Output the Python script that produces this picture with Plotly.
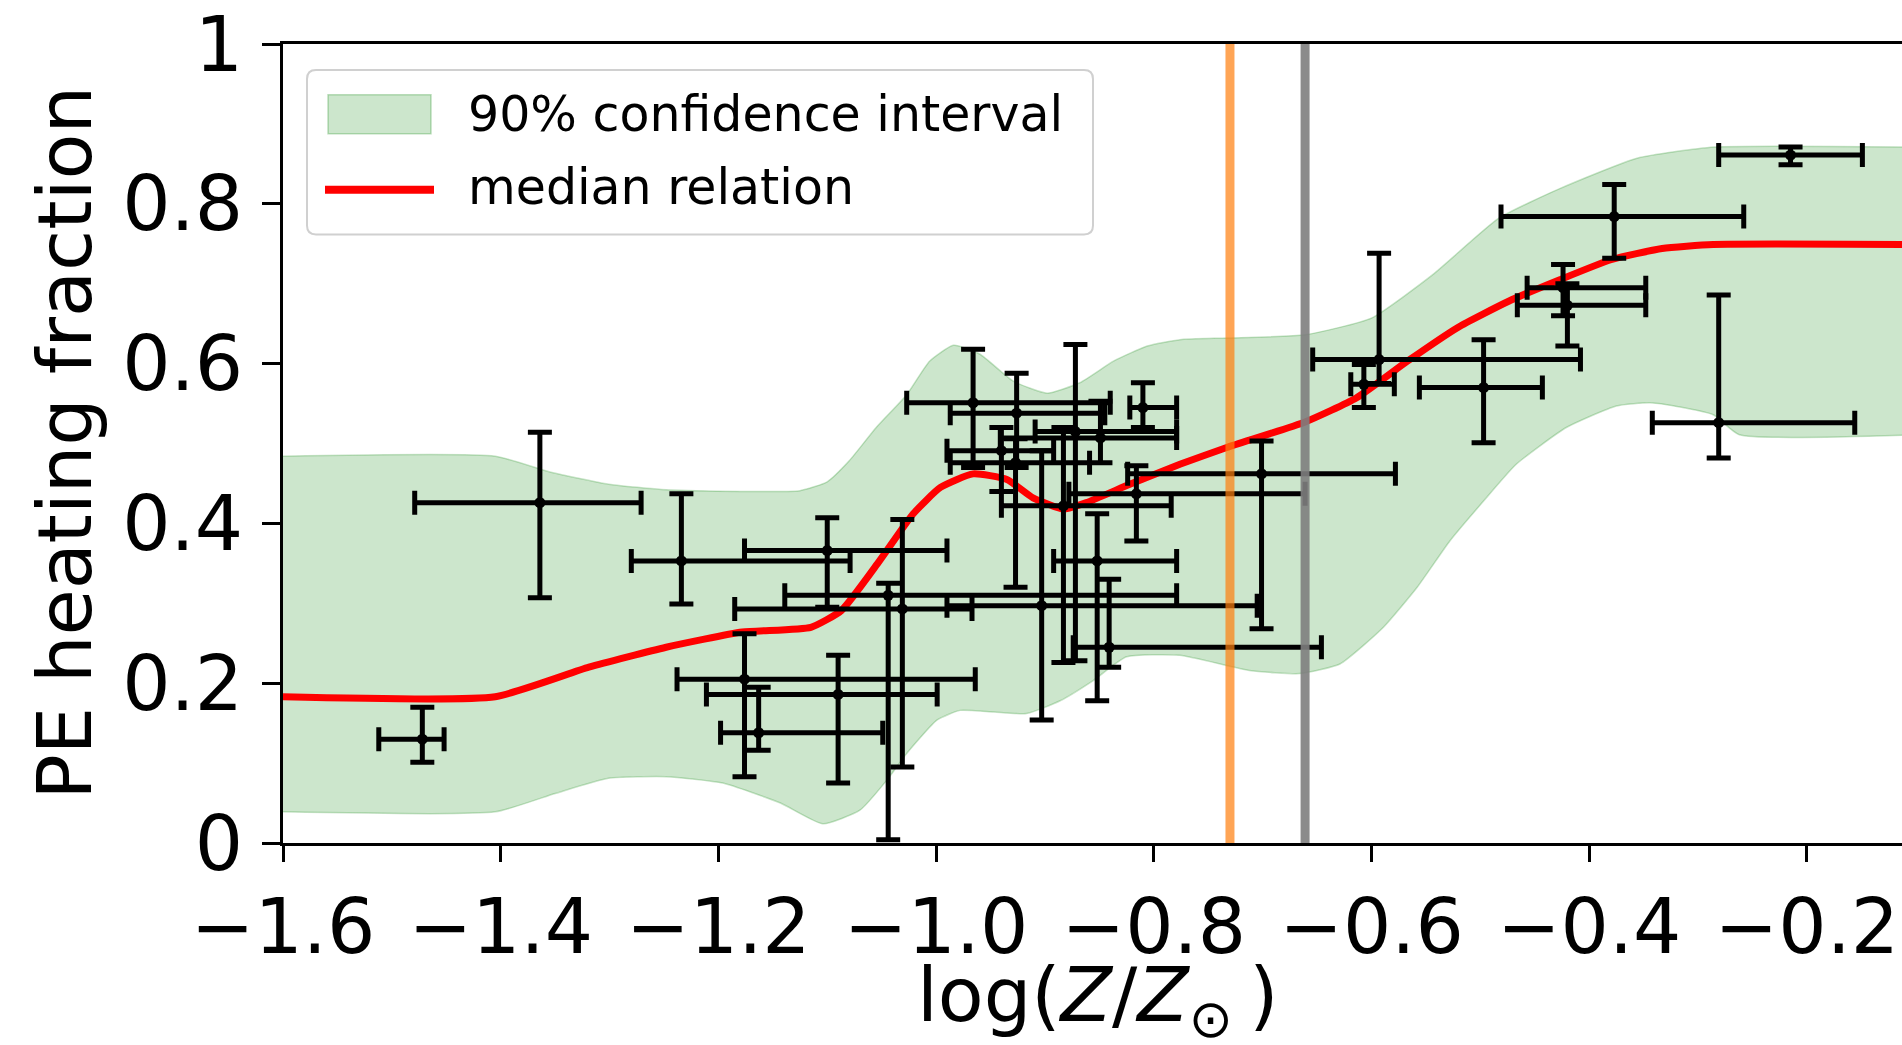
import plotly.graph_objects as go

# ---------------- data ----------------
# data points with asymmetric error bars (log Z, PE fraction)
pt_x   = [-1.472, -1.364, -1.234, -1.100, -1.176, -1.090, -1.163, -1.031, -1.044, -0.966,
          -0.926, -0.927, -0.872, -0.883, -0.903, -0.816, -0.849, -0.852, -0.841, -0.810,
          -0.701, -0.593, -0.607, -0.497, -0.424, -0.420, -0.377, -0.281, -0.215, -0.940]
pt_y   = [0.130, 0.426, 0.353, 0.366, 0.205, 0.186, 0.138, 0.293, 0.310, 0.551,
          0.538, 0.476, 0.515, 0.422, 0.297, 0.437, 0.507, 0.353, 0.245, 0.545,
          0.462, 0.605, 0.574, 0.570, 0.695, 0.673, 0.784, 0.526, 0.861, 0.491]
pt_xlo = [-1.512, -1.479, -1.280, -1.176, -1.238, -1.211, -1.198, -1.185, -1.139, -1.027,
          -0.987, -0.987, -0.909, -0.940, -0.990, -0.878, -0.941, -0.892, -0.874, -0.822,
          -0.824, -0.654, -0.619, -0.556, -0.457, -0.466, -0.481, -0.342, -0.281, -0.990]
pt_xhi = [-1.452, -1.271, -1.079, -0.990, -0.964, -0.999, -1.049, -0.967, -0.779, -0.840,
          -0.845, -0.859, -0.779, -0.784, -0.705, -0.661, -0.779, -0.779, -0.646, -0.779,
          -0.578, -0.408, -0.579, -0.443, -0.348, -0.348, -0.258, -0.156, -0.149, -0.892]
pt_ylo = [0.101, 0.307, 0.299, 0.295, 0.083, 0.075, 0.116, 0.095, 0.004, 0.470,
          0.470, 0.320, 0.228, 0.226, 0.154, 0.378, 0.476, 0.178, 0.220, 0.520,
          0.268, 0.575, 0.545, 0.501, 0.660, 0.622, 0.732, 0.482, 0.849, 0.440]
pt_yhi = [0.170, 0.514, 0.437, 0.407, 0.262, 0.235, 0.195, 0.405, 0.325, 0.618,
          0.588, 0.506, 0.624, 0.520, 0.491, 0.472, 0.553, 0.412, 0.330, 0.576,
          0.503, 0.738, 0.599, 0.630, 0.724, 0.700, 0.824, 0.686, 0.871, 0.520]

# median relation
med_x = [-1.600, -1.405, -1.319, -1.248, -1.178, -1.115, -1.087, -1.052, -1.021, -0.996,
         -0.966, -0.935, -0.911, -0.883, -0.862, -0.822, -0.776, -0.733, -0.661, -0.614,
         -0.567, -0.521, -0.474, -0.427, -0.380, -0.333, -0.286, -0.100]
med_y = [0.183, 0.183, 0.220, 0.245, 0.264, 0.270, 0.291, 0.353, 0.412, 0.445,
         0.462, 0.455, 0.432, 0.418, 0.426, 0.449, 0.474, 0.495, 0.527, 0.557,
         0.603, 0.645, 0.678, 0.705, 0.730, 0.744, 0.749, 0.749]

# 90% confidence interval band
up_x = [-1.600, -1.405, -1.354, -1.301, -1.248, -1.180, -1.125, -1.100, -1.080, -1.055,
        -1.027, -1.006, -0.984, -0.960, -0.929, -0.898, -0.868, -0.837, -0.806, -0.776,
        -0.733, -0.661, -0.600, -0.544, -0.483, -0.427, -0.356, -0.285, -0.100]
up_y = [0.484, 0.484, 0.464, 0.449, 0.442, 0.440, 0.441, 0.452, 0.478, 0.520,
        0.561, 0.603, 0.623, 0.612, 0.578, 0.563, 0.576, 0.603, 0.622, 0.630,
        0.632, 0.636, 0.657, 0.711, 0.782, 0.819, 0.857, 0.871, 0.871]
lo_x = [-1.600, -1.405, -1.350, -1.301, -1.248, -1.196, -1.143, -1.104, -1.070, -1.045,
        -1.027, -0.999, -0.978, -0.947, -0.917, -0.886, -0.856, -0.825, -0.776, -0.712,
        -0.666, -0.629, -0.589, -0.558, -0.528, -0.497, -0.467, -0.421, -0.375, -0.344,
        -0.314, -0.286, -0.262, -0.100]
lo_y = [0.039, 0.039, 0.062, 0.081, 0.083, 0.075, 0.050, 0.024, 0.041, 0.079,
        0.112, 0.154, 0.166, 0.164, 0.162, 0.178, 0.203, 0.233, 0.235, 0.216,
        0.212, 0.224, 0.270, 0.320, 0.378, 0.428, 0.474, 0.520, 0.547, 0.551,
        0.545, 0.536, 0.511, 0.511]

# reference vertical lines
vline_orange = -0.730
vline_gray = -0.661

x_ticks = [-1.6, -1.4, -1.2, -1.0, -0.8, -0.6, -0.4, -0.2]
x_ticktext = ["\u22121.6", "\u22121.4", "\u22121.2", "\u22121.0", "\u22120.8", "\u22120.6", "\u22120.4", "\u22120.2"]
y_ticks = [0, 0.2, 0.4, 0.6, 0.8, 1.0]
y_ticktext = ["0", "0.2", "0.4", "0.6", "0.8", "1"]

legend_labels = ["90% confidence interval", "median relation"]
x_title = "log(<i>Z</i>/<i>Z</i><sub>\u2299 </sub>)"
y_title = "PE heating fraction"

FONT = "DejaVu Sans"
BAND_FILL = "rgba(0,128,0,0.2)"
BAND_EDGE = "rgba(0,128,0,0.22)"

fig = go.Figure()

fig.add_trace(go.Scatter(x=lo_x, y=lo_y, mode="lines",
                         line=dict(color=BAND_EDGE, width=1.5, shape="spline", smoothing=0.5),
                         showlegend=False, hoverinfo="skip"))
fig.add_trace(go.Scatter(x=up_x, y=up_y, mode="lines", fill="tonexty", fillcolor=BAND_FILL,
                         line=dict(color=BAND_EDGE, width=1.5, shape="spline", smoothing=0.5),
                         name=legend_labels[0], showlegend=False))
fig.add_trace(go.Scatter(x=med_x, y=med_y, mode="lines",
                         line=dict(color="#ff0000", width=7, shape="spline", smoothing=0.5),
                         name=legend_labels[1], showlegend=False))

ex_p = [hi - c for hi, c in zip(pt_xhi, pt_x)]
ex_m = [c - lo for lo, c in zip(pt_xlo, pt_x)]
ey_p = [hi - c for hi, c in zip(pt_yhi, pt_y)]
ey_m = [c - lo for lo, c in zip(pt_ylo, pt_y)]

fig.add_trace(go.Scatter(x=pt_x, y=pt_y, mode="markers", marker=dict(color="black", size=11),
                         error_x=dict(type="data", symmetric=False, array=ex_p, arrayminus=ex_m,
                                      color="black", thickness=5, width=12),
                         error_y=dict(type="data", symmetric=False, array=ey_p, arrayminus=ey_m,
                                      color="black", thickness=5, width=12),
                         showlegend=False))

fig.add_shape(type="line", xref="x", yref="paper", x0=vline_orange, x1=vline_orange, y0=0, y1=1,
              line=dict(color="#ff7f0e", width=9), opacity=0.7, layer="above")
fig.add_shape(type="line", xref="x", yref="paper", x0=vline_gray, x1=vline_gray, y0=0, y1=1,
              line=dict(color="#7f7f7f", width=9), opacity=0.9, layer="above")

# ---- hand-drawn legend (matplotlib style, rounded frame) ----
PW, PH = 1619.0, 801.0          # plot-area size in px
def px(x):  # window px -> paper x
    return (x - 283) / PW
def py(y):  # window px -> paper y
    return (843 - y) / PH

bx0, bx1, by0, by1 = px(307), px(1093), py(233), py(68)
rx, ry = 9 / PW, 9 / PH
path = (f"M {bx0+rx} {by1} L {bx1-rx} {by1} Q {bx1} {by1} {bx1} {by1-ry} "
        f"L {bx1} {by0+ry} Q {bx1} {by0} {bx1-rx} {by0} "
        f"L {bx0+rx} {by0} Q {bx0} {by0} {bx0} {by0+ry} "
        f"L {bx0} {by1-ry} Q {bx0} {by1} {bx0+rx} {by1} Z")
fig.add_shape(type="path", xref="paper", yref="paper", path=path,
              fillcolor="rgba(255,255,255,0.8)", line=dict(color="#d0d0d0", width=2), layer="above")
fig.add_shape(type="rect", xref="paper", yref="paper", x0=px(328), x1=px(431), y0=py(132), y1=py(93),
              fillcolor=BAND_FILL, line=dict(color="rgba(0,128,0,0.25)", width=1.5), layer="above")
fig.add_shape(type="line", xref="paper", yref="paper", x0=px(325), x1=px(434), y0=py(188), y1=py(188),
              line=dict(color="#ff0000", width=8), layer="above")
fig.add_annotation(xref="paper", yref="paper", x=px(466), y=py(113), xanchor="left", yanchor="middle",
                   text=legend_labels[0], showarrow=False, font=dict(family=FONT, size=49, color="black"))
fig.add_annotation(xref="paper", yref="paper", x=px(466), y=py(186), xanchor="left", yanchor="middle",
                   text=legend_labels[1], showarrow=False, font=dict(family=FONT, size=49, color="black"))

# ---- axis titles (placed like matplotlib) ----
fig.add_annotation(xref="paper", yref="paper", x=px(1098), y=py(1000), xanchor="center", yanchor="middle",
                   text=x_title, showarrow=False, font=dict(family=FONT, size=75, color="black"))
fig.add_annotation(xref="paper", yref="paper", x=px(64), y=0.5, xanchor="center", yanchor="middle",
                   text=y_title, textangle=-90, showarrow=False, font=dict(family=FONT, size=75, color="black"))

fig.update_layout(
    width=1902, height=1045,
    margin=dict(l=283, r=0, t=42, b=202),
    paper_bgcolor="white", plot_bgcolor="white",
    font=dict(family=FONT, color="black", size=76),
    showlegend=False,
    xaxis=dict(range=[-1.6, -0.1126], tickvals=x_ticks, ticktext=x_ticktext,
               showgrid=False, zeroline=False, showline=True, linecolor="black", linewidth=2.5,
               mirror=True, ticks="outside", ticklen=16, tickwidth=2.5, tickcolor="black",
               tickfont=dict(family=FONT, size=76)),
    yaxis=dict(range=[0, 1], tickvals=y_ticks, ticktext=y_ticktext,
               showgrid=False, zeroline=False, showline=True, linecolor="black", linewidth=2.5,
               ticks="outside", ticklen=18, tickwidth=2.5, tickcolor="black",
               tickfont=dict(family=FONT, size=76), ticklabelstandoff=4, ticklabeloverflow="allow"),
)

fig.write_html("out.html", config={"displayModeBar": False},
               post_script="document.body.style.margin='0px';")
